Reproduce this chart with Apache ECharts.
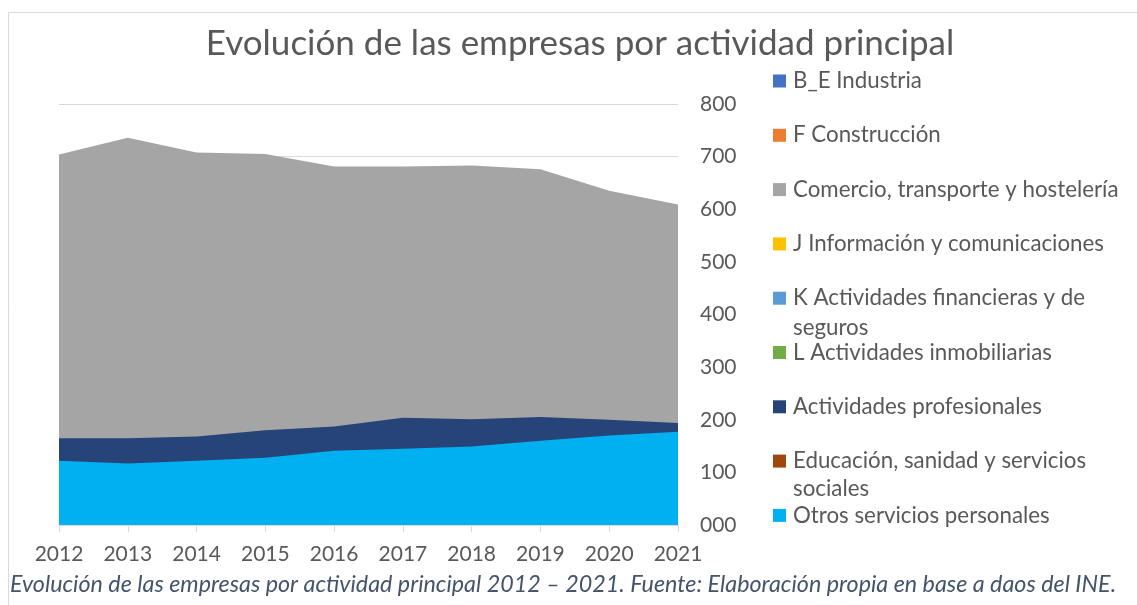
<!DOCTYPE html>
<html>
<head>
<meta charset="utf-8">
<script src="https://cdn.jsdelivr.net/npm/echarts@6/dist/echarts.min.js"></script>
<style>
  html, body { margin: 0; padding: 0; background: #fff; }
  #chart { width: 1137px; height: 605px; }
</style>
</head>
<body>
<div id="chart"></div>
<script>
// data (number of companies)
const years = ['2012', '2013', '2014', '2015', '2016', '2017', '2018', '2019', '2020', '2021']

// these six series are completely covered by the other areas in the reference,
// so nothing of them can be read; they only show up in the legend
const industria = []
const construccion = []
const informacion = []
const financieras = []
const inmobiliarias = []
const educacion = []

const comercio = [704, 736, 708, 705, 681, 681, 683, 676, 635, 609]
const profesionales = [165, 165, 168, 180, 187, 204, 201, 205, 200, 194]
const otros = [122, 117, 122, 128, 141, 145, 149, 160, 170, 177]

const yMin = 0
const yMax = 800
const yStep = 100

const names = [
  'B_E Industria',
  'F Construcción',
  'Comercio, transporte y hostelería',
  'J Información y comunicaciones',
  'K Actividades financieras y de',
  'L Actividades inmobiliarias',
  'Actividades profesionales',
  'Educación, sanidad y servicios',
  'Otros servicios personales',
]
const values = [industria, construccion, comercio, informacion, financieras, inmobiliarias, profesionales, educacion, otros]
const colors = ['#4472C4', '#ED7D31', '#A5A5A5', '#FFC000', '#5B9BD5', '#70AD47', '#264478', '#9E480E', '#00B0F0']

const FONT = 'Lato, "Open Sans", sans-serif'
const TEXT = '#595959'
const LEG_SIZE = 22.3

const chart = echarts.init(document.getElementById('chart'), null, { renderer: 'canvas' })

// one legend per item so the rows keep the same spacing as in the picture
const legends = names.map((n, i) => ({
  data: [n],
  orient: 'vertical',
  left: 773,
  top: 68 + i * 54.3,
  padding: 0,
  icon: 'rect',
  itemWidth: 13,
  itemHeight: 13,
  selectedMode: false,
  textStyle: { color: TEXT, fontSize: LEG_SIZE, fontFamily: FONT, lineHeight: 26, padding: [0, 0, 0, 2] },
}))

const option = {
  backgroundColor: '#fff',
  animation: false,
  title: [
    {
      text: 'Evolución de las empresas por actividad principal',
      left: 575,
      textAlign: 'center',
      top: 21,
      textStyle: { color: TEXT, fontSize: 35, fontWeight: 'normal', fontFamily: FONT },
    },
    {
      text: 'Evolución de las empresas por actividad principal 2012 – 2021. Fuente: Elaboración propia en base a daos del INE.',
      left: 5,
      top: 568,
      textStyle: { color: '#44546A', fontSize: 23.3, fontWeight: 'normal', fontStyle: 'italic', fontFamily: FONT },
    },
  ],
  legend: legends,
  graphic: [
    { type: 'line', shape: { x1: 8.5, y1: 12.5, x2: 1137, y2: 12.5 }, style: { stroke: '#d9d9d9', lineWidth: 1 } },
    { type: 'line', shape: { x1: 8.5, y1: 12.5, x2: 8.5, y2: 605 }, style: { stroke: '#d9d9d9', lineWidth: 1 } },
    { type: 'text', left: 793, top: 317, style: { text: 'seguros', fill: TEXT, font: LEG_SIZE + 'px ' + FONT } },
    { type: 'text', left: 793, top: 478, style: { text: 'sociales', fill: TEXT, font: LEG_SIZE + 'px ' + FONT } },
  ],
  grid: { left: 59, right: 459, top: 104, bottom: 80 },
  xAxis: {
    type: 'category',
    data: years,
    boundaryGap: false,
    axisLine: { lineStyle: { color: '#d9d9d9', width: 1 } },
    axisTick: { show: true, length: 7, lineStyle: { color: '#d9d9d9' } },
    axisLabel: { color: TEXT, fontSize: 21, fontFamily: FONT, margin: 19 },
    splitLine: { show: false },
  },
  yAxis: {
    type: 'value',
    position: 'right',
    min: yMin,
    max: yMax,
    interval: yStep,
    axisLine: { show: false },
    axisTick: { show: false },
    axisLabel: {
      color: TEXT, fontSize: 21, fontFamily: FONT, margin: 22,
      formatter: v => String(v).padStart(3, '0'),
    },
    splitLine: { lineStyle: { color: '#d9d9d9', width: 1 } },
  },
  series: names.map((n, i) => ({
    name: n,
    type: 'line',
    data: values[i],
    color: colors[i],
    showSymbol: false,
    symbol: 'none',
    lineStyle: { width: 0 },
    areaStyle: { color: colors[i], opacity: 1 },
  })),
}

chart.setOption(option)
</script>
</body>
</html>
